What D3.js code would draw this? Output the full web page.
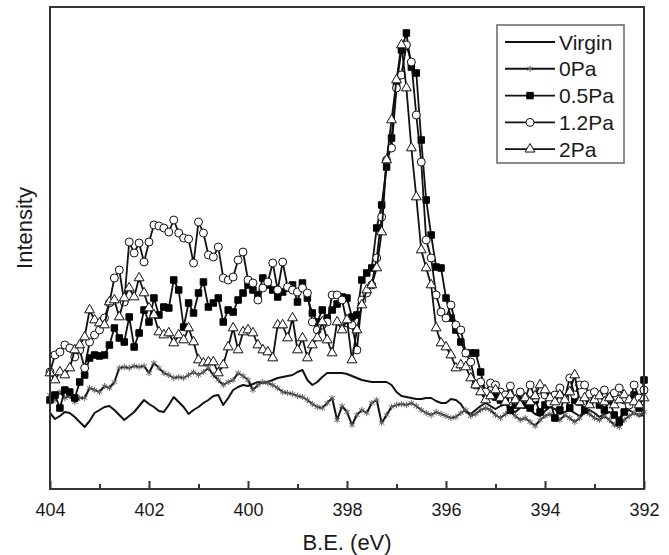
<!DOCTYPE html>
<html>
<head>
<meta charset="utf-8">
<script src="https://cdn.jsdelivr.net/npm/d3@7"></script>
<style>
body{margin:0;background:#fff;}
svg{display:block;font-family:"Liberation Sans",Arial,Helvetica,sans-serif;}
</style>
</head>
<body>
<script>

// binding energy grid, 404 -> 392 eV, 0.1 eV step
var eStart = 404, eStep = 0.1, nPoints = 121
var energies = d3.range(nPoints).map(function(i){ return +(eStart - i*eStep).toFixed(1) })

// intensities (arb. units), one value per energy
var virgin = [76,70,73,77,76,72,67,62,68,76,
  79,82,83,79,74,69,73,77,83,89,
  85,82,78,77,84,92,87,82,75,79,
  82,86,89,93,94,84,91,99,102,104,
  103,105,107,106,107,109,111,112,113,114,
  117,119,109,104,107,112,116,116,116,116,
  115,113,111,109,108,107,107,107,107,104,
  97,93,92,91,90,90,91,91,88,86,
  86,90,89,85,77,75,79,83,86,83,
  80,83,85,79,77,81,84,79,75,73,
  78,82,80,75,77,79,76,73,77,79,
  76,72,75,77,74,71,76,79,76,73,
  74]

var pa0 = [94,89,97,91,93,87,91,91,101,99,
  97,103,101,107,121,122,121,123,122,123,
  116,126,121,116,114,111,112,111,114,117,
  114,117,121,114,109,104,107,109,116,113,
  109,99,104,107,106,104,101,97,96,95,
  93,92,89,85,82,81,86,91,69,83,
  77,64,74,79,76,86,89,66,74,82,
  84,85,84,86,83,79,76,74,77,75,
  73,71,72,76,79,73,75,79,81,79,
  74,71,75,77,73,69,71,67,63,69,
  73,75,71,69,74,71,67,71,77,75,
  71,69,73,69,64,62,69,73,76,74,
  77]

var pa05 = [89,94,81,99,97,91,107,114,131,134,
  133,134,144,161,151,147,172,142,156,179,
  167,191,174,182,181,209,199,162,186,176,
  196,207,182,186,191,167,179,177,189,196,
  204,199,194,211,204,199,192,197,201,204,
  187,206,191,176,167,179,171,179,185,192,
  191,172,174,209,216,221,261,284,322,351,
  404,439,456,422,416,349,289,254,222,221,
  191,171,159,147,136,136,136,117,96,94,
  92,89,91,79,84,91,84,81,89,77,
  84,89,71,79,91,81,89,87,79,85,
  91,84,79,89,74,67,77,87,94,81,
  109]

var pa12 = [117,134,137,144,141,132,139,121,147,154,
  159,171,186,211,219,187,247,236,246,227,
  247,264,263,261,257,269,256,251,250,226,
  267,256,234,232,242,211,209,212,229,237,
  209,206,189,201,207,226,199,227,202,199,
  197,201,196,167,159,164,167,194,194,189,
  166,164,139,189,196,204,231,272,329,341,
  401,414,444,427,374,327,249,231,194,177,
  171,184,164,159,136,127,104,107,97,106,
  104,97,94,103,89,97,91,104,91,99,
  94,86,94,101,91,111,94,104,104,95,
  97,89,99,91,96,101,89,84,104,91,
  99]

var pa2 = [116,109,117,114,121,139,144,152,179,169,
  166,164,187,189,172,191,201,192,211,196,
  181,174,157,154,156,146,154,149,161,147,
  129,126,127,127,116,124,142,161,139,157,
  159,156,144,139,137,131,164,164,151,171,
  139,151,131,144,151,167,149,136,167,159,
  169,129,159,184,199,204,221,257,329,369,
  409,444,401,341,292,239,221,204,161,146,
  142,134,121,124,122,111,104,97,89,93,
  99,91,87,94,89,84,91,87,93,104,
  99,91,87,94,89,97,114,87,91,84,
  89,93,87,91,84,89,94,89,87,84,
  91]

var seriesNames = ["Virgin","0Pa","0.5Pa","1.2Pa","2Pa"]
var majorTicks = [404,402,400,398,396,394,392]
var minorTicks = [403,401,399,397,395,393]


var width = 669, height = 555
var plotLeft = 50, plotRight = 644, plotTop = 7, plotBottom = 489

var svg = d3.select("body").append("svg")
  .attr("width",width)
  .attr("height",height)

var x = d3.scaleLinear().domain([404,392]).range([plotLeft,plotRight])
var y = d3.scaleLinear().domain([0,482]).range([plotBottom,plotTop])

// marker look for each series
var styles = [
  {data:virgin, symbol:null, width:2},
  {data:pa0, symbol:d3.symbolAsterisk, size:28, fill:"none", stroke:"#666", width:2},
  {data:pa05, symbol:d3.symbolSquare, size:42, fill:"#000", stroke:"#000", width:1.8},
  {data:pa12, symbol:d3.symbolCircle, size:50, fill:"#fff", stroke:"#111", width:1.8},
  {data:pa2, symbol:d3.symbolTriangle, size:42, fill:"#fff", stroke:"#111", width:1.8}
]

var line = d3.line()
  .x(function(d,i){ return x(energies[i]) })
  .y(function(d){ return y(d) })

styles.forEach(function(s,k)
{
  var g = svg.append("g").attr("class","series s"+k)
  g.append("path")
    .attr("d",line(s.data))
    .attr("fill","none")
    .attr("stroke","#111")
    .attr("stroke-width",s.width)
    .attr("stroke-linejoin","round")

  if(s.symbol)
  {
    g.selectAll("path.mark")
      .data(s.data)
      .enter()
      .append("path")
      .attr("class","mark")
      .attr("d",d3.symbol(s.symbol,s.size))
      .attr("transform",function(d,i){ return "translate(" + x(energies[i]) + "," + y(d) + ")" })
      .attr("fill",s.fill)
      .attr("stroke",s.stroke)
      .attr("stroke-width",1)
  }
})

// axes (ticks point inward)
var major = d3.axisBottom(x)
  .tickValues(majorTicks)
  .tickSizeInner(-8)
  .tickSizeOuter(0)
  .tickPadding(14)
  .tickFormat(d3.format("d"))

var minor = d3.axisBottom(x)
  .tickValues(minorTicks)
  .tickSizeInner(-5)
  .tickSizeOuter(0)
  .tickFormat("")

var gx = svg.append("g").attr("transform","translate(0," + plotBottom + ")").call(major)
var gm = svg.append("g").attr("transform","translate(0," + plotBottom + ")").call(minor)
gx.select(".domain").remove()
gm.select(".domain").remove()
svg.selectAll(".tick line").attr("stroke","#333").attr("stroke-width",2)
gx.selectAll("text")
  .attr("fill","#1a1a1a")
  .style("font-size","18px")
  .style("font-family","'Liberation Sans',Arial,sans-serif")

svg.append("rect")
  .attr("x",plotLeft)
  .attr("y",plotTop)
  .attr("width",plotRight-plotLeft)
  .attr("height",plotBottom-plotTop)
  .attr("fill","none")
  .attr("stroke","#333")
  .attr("stroke-width",2)

svg.append("text")
  .attr("x",(plotLeft+plotRight)/2)
  .attr("y",550)
  .attr("text-anchor","middle")
  .attr("fill","#1a1a1a")
  .style("font-size","22px")
  .text("B.E. (eV)")

svg.append("text")
  .attr("transform","translate(32,228) rotate(-90)")
  .attr("text-anchor","middle")
  .attr("fill","#1a1a1a")
  .style("font-size","22px")
  .text("Intensity")

// legend
var legend = svg.append("g")
legend.append("rect")
  .attr("x",497)
  .attr("y",25)
  .attr("width",127)
  .attr("height",138)
  .attr("fill","#fff")
  .attr("stroke","#666")
  .attr("stroke-width",1.5)

seriesNames.forEach(function(name,k)
{
  var s = styles[k]
  var ly = 42 + k*26.8
  legend.append("line")
    .attr("x1",505).attr("x2",555)
    .attr("y1",ly).attr("y2",ly)
    .attr("stroke","#111")
    .attr("stroke-width",s.width)
  if(s.symbol)
  {
    legend.append("path")
      .attr("d",d3.symbol(s.symbol,s.size))
      .attr("transform","translate(530," + ly + ")")
      .attr("fill",s.fill)
      .attr("stroke",s.stroke)
      .attr("stroke-width",1)
  }
  legend.append("text")
    .attr("x",559)
    .attr("y",ly)
    .attr("dy","0.36em")
    .attr("fill","#1a1a1a")
    .style("font-size","21px")
    .text(name)
})

</script>
</body>
</html>
